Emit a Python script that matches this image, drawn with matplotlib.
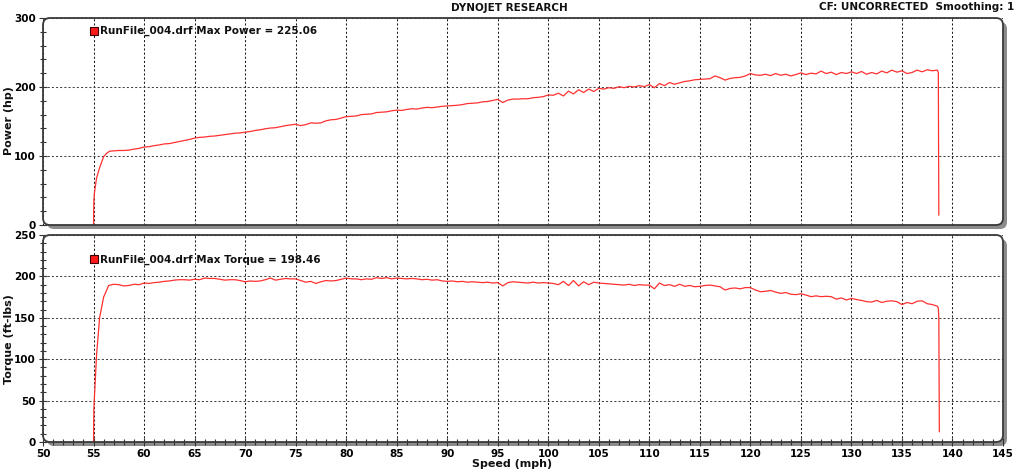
import numpy as np
import matplotlib
matplotlib.use("Agg")
import matplotlib.pyplot as plt
from matplotlib.patches import FancyBboxPatch
from matplotlib.transforms import IdentityTransform
from matplotlib.ticker import MultipleLocator

# dyno run, sampled every 0.5 mph from 57 to 138.5 mph
speed_mid = np.arange(57.0, 139.0, 0.5)

power_mid = [
    107.5, 108, 108, 108.5, 110, 111, 113, 113.5, 115, 116,
    117.5, 118, 119.5, 121, 122.5, 124, 126, 127, 127.5, 128.5,
    129, 130, 131, 132, 133, 133.5, 134.5, 135.5, 137, 138,
    139.5, 140.5, 141, 142.5, 144, 145, 146, 144, 145.5, 148,
    147.5, 148, 151, 152.5, 153, 155, 157, 157.5, 158, 160,
    160.5, 161, 163, 163.5, 164, 165.5, 166.5, 166, 167.5, 168.5,
    168, 169.5, 170.5, 170, 171, 172, 172.5, 173, 173.5, 174.5,
    176, 176.5, 177, 178.5, 179, 180.5, 182, 177.5, 181, 182.5,
    182.5, 183, 183, 184.5, 185, 186, 188.5, 188, 191, 187,
    194, 190, 196, 192, 197, 193.5, 198, 197, 199, 198,
    200.5, 199, 201, 200, 202, 200.5, 203.5, 199, 205, 202,
    206.5, 204, 206, 208, 209, 210.5, 211, 211.5, 212, 216,
    213.5, 210, 212.5, 213.5, 214, 216, 219.5, 217.5, 217, 218.5,
    216.5, 219.5, 217, 218.5, 216, 218, 220.5, 218, 220, 219,
    223, 219.5, 221.5, 218, 221, 219.5, 222, 219.5, 222.5, 218.5,
    221, 219, 223, 220.5, 224.5, 221.5, 223.5, 219.5, 221, 224.5,
    222, 225, 223.5, 224.5,
]

torque_mid = [
    190.5, 190, 188.5, 189, 190.5, 190, 192, 191.5, 192.5, 193,
    194, 194.5, 195.5, 196, 196, 195.5, 196.5, 196, 198, 197.5,
    197.5, 196.5, 195.5, 196, 196, 195, 193.5, 194.5, 194, 194.5,
    196, 198, 195.5, 196.5, 197.5, 197, 197, 195, 193, 194,
    191.5, 193.5, 195, 194.5, 195, 196.5, 198, 197, 197, 196,
    197, 196.5, 198.5, 197.5, 198.5, 197, 198, 197.5, 197, 197.5,
    197, 196, 196.5, 195.5, 196, 194.5, 194, 194.5, 193.5, 194,
    193, 193.5, 193, 192.5, 193, 192, 192.5, 188.5, 192.5, 193.5,
    193, 192.5, 192, 193, 192, 192.5, 192, 191.5, 190, 194,
    189, 195, 188.5, 193.5, 190, 193, 192, 191.5, 191, 190.5,
    190, 189.5, 190.5, 189, 190, 189.5, 189.5, 185, 192, 189,
    190, 188, 190.5, 188, 189, 187.5, 188, 189, 189.5, 188.5,
    187.5, 183.5, 185.5, 186, 185, 186.5, 186.5, 183.5, 181.5, 182,
    183, 181, 179.5, 180.5, 178.5, 178, 179, 177.5, 175.5, 176.5,
    175.5, 176, 175.5, 172.5, 174, 171.5, 173.5, 172, 171, 169.5,
    169, 171, 168.5, 170, 170.5, 169.5, 166, 168.5, 167, 170,
    170.5, 167, 166, 164,
]

# launch and end of the pull
power_start_x = [55.0, 55.03, 55.1, 55.3, 55.6, 56.0, 56.3, 56.6]
power_start_y = [0, 35, 48, 68, 83, 99, 104, 107]
power_end_x = [138.6, 138.65]
power_end_y = [221, 14.5]

torque_start_x = [55.0, 55.03, 55.3, 55.6, 56.0, 56.5]
torque_start_y = [0, 40, 105, 150, 175, 189]
torque_end_x = [138.6, 138.65, 138.7]
torque_end_y = [162, 150, 12.5]

speed_power = np.concatenate([power_start_x, speed_mid, power_end_x])
power = np.concatenate([power_start_y, power_mid, power_end_y])
speed_torque = np.concatenate([torque_start_x, speed_mid, torque_end_x])
torque = np.concatenate([torque_start_y, torque_mid, torque_end_y])

W, H = 1024, 471
fig = plt.figure(figsize=(W / 100, H / 100), dpi=100)
plt.rcParams["font.family"] = ["DejaVu Sans"]
fsz = 7.5

# panel boxes in pixels (left, top, right, bottom), measured from top
panels = [(43, 18, 1003, 225), (43, 235, 1003, 442)]
axes = []
for (l, t, r, b) in panels:
    ax = fig.add_axes([l / W, 1 - b / H, (r - l) / W, (b - t) / H])
    ax.set_facecolor("none")
    for s in ax.spines.values():
        s.set_visible(False)
    # drop shadow + white card behind the axes
    shadow = FancyBboxPatch((l + 4, H - b - 4), r - l, b - t,
                            boxstyle="round,pad=0,rounding_size=7",
                            transform=IdentityTransform(), fc="#8c8c8c", ec="none", zorder=-3)
    card = FancyBboxPatch((l, H - b), r - l, b - t,
                          boxstyle="round,pad=0,rounding_size=7",
                          transform=IdentityTransform(), fc="white", ec="none", zorder=-2)
    border = FancyBboxPatch((l, H - b), r - l, b - t,
                            boxstyle="round,pad=0,rounding_size=7",
                            transform=IdentityTransform(), fc="none", ec="#3a3a3a", lw=1.3, zorder=6)
    fig.patches.extend([shadow, card])
    ax.add_artist(border)
    border.set_clip_on(False)
    ax.set_xlim(50, 145)
    ax.xaxis.set_major_locator(MultipleLocator(5))
    ax.grid(True, axis="x", which="major", color="#1a1a1a", linestyle=(0, (2, 2)), linewidth=0.75)
    ax.grid(True, axis="y", which="major", color="#444444", linestyle=(0, (2, 2)), linewidth=0.75)
    ax.tick_params(axis="y", which="both", direction="inout", color="#333333", width=0.8,
                   labelsize=fsz, pad=2)
    ax.tick_params(axis="y", which="major", length=6)
    ax.tick_params(axis="y", which="minor", length=5)
    for lab in ax.get_yticklabels():
        lab.set_fontweight("bold")
    axes.append(ax)

ax1, ax2 = axes

line_col = "#ff3030"
ax1.plot(speed_power, power, color=line_col, lw=0.9, zorder=3)
ax1.set_ylim(0, 300)
ax1.yaxis.set_major_locator(MultipleLocator(100))
ax1.yaxis.set_minor_locator(MultipleLocator(20))
ax1.tick_params(axis="x", which="both", length=0, labelbottom=False)
ax1.plot([55], [281], marker="s", ms=6, mfc="#ff1a1a", mec="#3a0000", mew=0.8, zorder=5)
ax1.text(55.6, 281, "RunFile_004.drf Max Power = 225.06", fontsize=fsz, fontweight="bold",
         va="center", ha="left", color="#111111")

ax2.plot(speed_torque, torque, color=line_col, lw=0.9, zorder=3)
ax2.set_ylim(0, 250)
ax2.yaxis.set_major_locator(MultipleLocator(50))
ax2.yaxis.set_minor_locator(MultipleLocator(10))
ax2.xaxis.set_minor_locator(MultipleLocator(1))
ax2.tick_params(axis="x", which="both", direction="inout", color="#333333", width=0.8,
                labelsize=fsz, pad=2)
ax2.tick_params(axis="x", which="major", length=6)
ax2.tick_params(axis="x", which="minor", length=5)
for lab in ax2.get_xticklabels() + ax2.get_yticklabels():
    lab.set_fontweight("bold")
ax2.plot([55], [220.5], marker="s", ms=6, mfc="#ff1a1a", mec="#3a0000", mew=0.8, zorder=5)
ax2.text(55.6, 220.5, "RunFile_004.drf Max Torque = 198.46", fontsize=fsz, fontweight="bold",
         va="center", ha="left", color="#111111")

fig.text(509 / W, 1 - 8 / H, "DYNOJET RESEARCH", ha="center", va="center",
         fontsize=fsz, fontweight="bold", color="#111111")
fig.text(1014 / W, 1 - 7 / H, "CF: UNCORRECTED  Smoothing: 1", ha="right", va="center",
         fontsize=fsz, fontweight="bold", color="#111111")
fig.text(9 / W, 1 - 121 / H, "Power (hp)", rotation=90, ha="center", va="center",
         fontsize=8, fontweight="bold", color="#111111")
fig.text(9 / W, 1 - 339 / H, "Torque (ft-lbs)", rotation=90, ha="center", va="center",
         fontsize=8, fontweight="bold", color="#111111")
fig.text(512 / W, 1 - 464 / H, "Speed (mph)", ha="center", va="center",
         fontsize=8, fontweight="bold", color="#111111")

fig.savefig("out.png", dpi=100, facecolor="white")
